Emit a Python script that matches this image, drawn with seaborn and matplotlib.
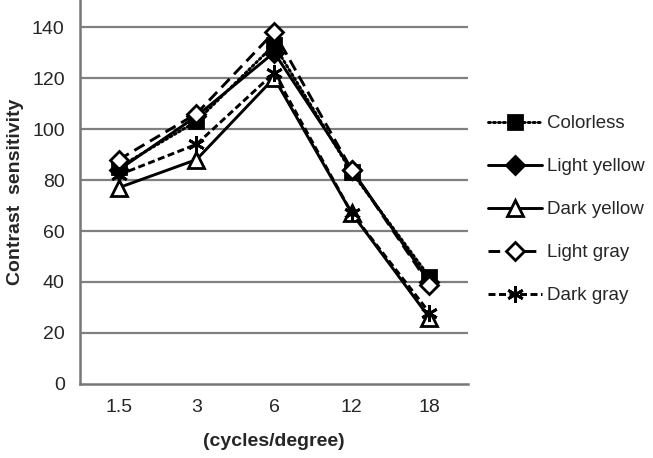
import numpy as np
import pandas as pd
import seaborn as sns
import matplotlib.pyplot as plt

sns.set_style("white")
plt.rcParams['font.family'] = ['Liberation Sans', 'DejaVu Sans']

freqs = ['1.5', '3', '6', '12', '18']
colorless = [85, 103, 133, 83, 42]
light_yellow = [84, 105, 130, 84, 40]
dark_yellow = [77, 88, 120, 67, 26]
light_gray = [88, 106, 138, 84, 39]
dark_gray = [82, 94, 122, 67, 28]

series = ['Colorless', 'Light yellow', 'Dark yellow', 'Light gray', 'Dark gray']
values = [colorless, light_yellow, dark_yellow, light_gray, dark_gray]

df = pd.DataFrame({
    'pos': np.tile(np.arange(len(freqs)), len(series)),
    'value': np.concatenate(values),
    'series': np.repeat(series, len(freqs)),
})

styles = {
    'Colorless': dict(ls=(0, (0.7, 1.0)), marker='s', mfc='black', ms=10, cap='round'),
    'Light yellow': dict(ls='-', marker='D', mfc='black', ms=9, cap='butt'),
    'Dark yellow': dict(ls='-', marker='^', mfc='white', ms=11, cap='butt'),
    'Light gray': dict(ls=(0, (4, 2.2)), marker='D', mfc='white', ms=9, cap='butt'),
    'Dark gray': dict(ls=(0, (2.4, 1.2)), marker=(6, 2, 0), mfc='black', ms=12, cap='butt'),
}

fig = plt.figure(figsize=(6.53, 4.58), dpi=100)
ax = fig.add_axes([0.1225, 0.1616, 0.5945, 0.8384])

for name in series:
    st = styles[name]
    sub = df[df.series == name]
    sns.lineplot(data=sub, x='pos', y='value', ax=ax, color='black', lw=2.1,
                 linestyle=st['ls'], marker=st['marker'], markersize=st['ms'],
                 markerfacecolor=st['mfc'], markeredgecolor='black', markeredgewidth=2,
                 dash_capstyle=st['cap'], label=name)

ax.set_xlim(-0.5, len(freqs) - 0.5)
ax.set_ylim(0, 150.6)
ax.set_yticks(np.arange(0, 141, 20))
ax.set_xticks(np.arange(len(freqs)))
ax.set_xticklabels(freqs)
ax.set_xticks(np.arange(-0.5, len(freqs)), minor=True)
ax.tick_params(axis='x', which='major', length=0, pad=11, labelsize=14)
ax.tick_params(axis='x', which='minor', length=5, width=1.8, color='#777777', direction='out')
ax.tick_params(axis='y', length=5, width=1.8, color='#777777', direction='out', pad=6, labelsize=14)

ax.grid(False)
for y in np.arange(20, 141, 20):
    ax.axhline(y, color='#808080', lw=1.6, zorder=0)

sns.despine(ax=ax, top=True, right=True)
for s in ['left', 'bottom']:
    ax.spines[s].set_color('#777777')
    ax.spines[s].set_linewidth(1.8)

ax.set_xlabel('(cycles/degree)', fontsize=14, fontweight='bold', labelpad=12)
ax.set_ylabel('Contrast  sensitivity', fontsize=14, fontweight='bold', labelpad=6)

ax.legend(loc='upper left', bbox_to_anchor=(1.032, 0.72), frameon=False, fontsize=13.5,
          handlelength=2.9, handletextpad=0.25, labelspacing=1.38, borderaxespad=0)

fig.savefig('out.png', dpi=100)
